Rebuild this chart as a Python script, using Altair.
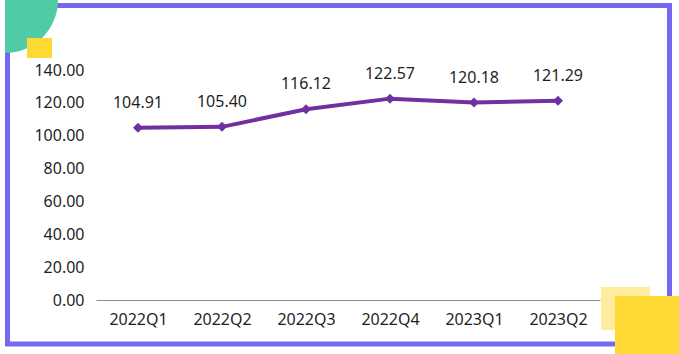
import altair as alt
import pandas as pd

quarters = ["2022Q1", "2022Q2", "2022Q3", "2022Q4", "2023Q1", "2023Q2"]
values = [104.91, 105.40, 116.12, 122.57, 120.18, 121.29]
y_ticks = [0, 20, 40, 60, 80, 100, 120, 140]

df = pd.DataFrame({"q": quarters, "v": values})
one = alt.Data(values=[{"a": 1}])

FONT = "Noto Sans"
TXT = "#1f1f1f"
LINE = "#7030A0"

base = alt.Chart(df)

x_enc = alt.X("q:N", sort=quarters, title=None,
              scale=alt.Scale(type="point", padding=0.5),
              axis=alt.Axis(labelAngle=0, ticks=False, domain=True, domainColor="#8c8c8c",
                            domainWidth=1, labelPadding=11, labelFontSize=16,
                            labelFont=FONT, labelColor=TXT, grid=False, labelOverlap=False))
y_enc = alt.Y("v:Q", title=None,
              scale=alt.Scale(domain=[0, 140], nice=False, zero=True),
              axis=alt.Axis(values=y_ticks, format=".2f", ticks=False, domain=False,
                            grid=False, labelPadding=12, labelFontSize=16,
                            labelFont=FONT, labelColor=TXT, labelOverlap=False))

line = base.mark_line(color=LINE, strokeWidth=4).encode(x=x_enc, y=y_enc)
pts = base.mark_point(shape="diamond", filled=True, size=100, color=LINE, opacity=1).encode(x=x_enc, y=y_enc)
labels = base.mark_text(dy=-25, fontSize=16, font=FONT, color=TXT).encode(
    x=x_enc, y=y_enc, text=alt.Text("v:Q", format=".2f"))

border = alt.Chart(one).mark_rect(fill=None, stroke="#7468F3", strokeWidth=5).encode(
    x=alt.value(-88.5), x2=alt.value(573.5), y=alt.value(-64.5), y2=alt.value(274))
teal = alt.Chart(one).mark_arc(radius=53, theta=1.5708, theta2=3.1416, color="#4FCBA6").encode(
    x=alt.value(-91), y=alt.value(-70))
ysq = alt.Chart(one).mark_rect(color="#FFD933").encode(
    x=alt.value(-69), x2=alt.value(-44), y=alt.value(-32), y2=alt.value(-12))
lsq = alt.Chart(one).mark_rect(color="#FFEC9E").encode(
    x=alt.value(505), x2=alt.value(554), y=alt.value(217), y2=alt.value(260))
dsq = alt.Chart(one).mark_rect(color="#FFD933").encode(
    x=alt.value(519), x2=alt.value(590), y=alt.value(226), y2=alt.value(290))

chart = alt.layer(line, pts, labels, border, teal, ysq, lsq, dsq).properties(
    width=504, height=230,
    padding={"left": 96, "top": 70, "right": 79, "bottom": 54},
    autosize=alt.AutoSizeParams(type="none"),
    background="white",
).configure_view(stroke=None).configure_axis(labelOverlap=False, labelBound=False)

chart.save("out.html", embed_options={"renderer": "svg", "actions": False})
